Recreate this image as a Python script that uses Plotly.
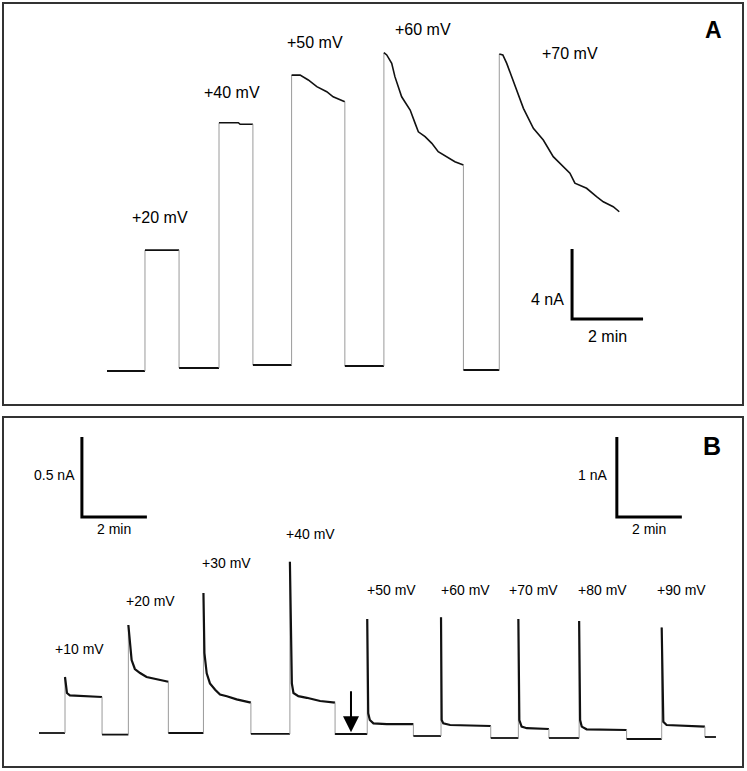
import plotly.graph_objects as go

# ---------------- Panel A data (time in min, current in nA) ----------------
A_labels = ["+20 mV", "+40 mV", "+50 mV", "+60 mV", "+70 mV"]
A_label_t = [1.49, 3.52, 5.86, 8.90, 13.04]
A_label_i = [8.8, 15.94, 18.8, 19.49, 18.17]
A_base = [0.0, 0.17, 0.34, 0.29, 0.06]      # holding current before each step
A_start = 0.0

A20_t = [1.07, 2.03]
A20_i = [6.91, 6.91]
A40_t = [3.155, 3.70, 3.75, 4.11]
A40_i = [14.19, 14.19, 14.10, 14.10]
A50_t = [5.20, 5.44, 5.67, 5.91, 6.19, 6.37, 6.70]
A50_i = [16.91, 16.91, 16.63, 16.25, 15.96, 15.67, 15.39]
A60_t = [7.80, 7.88, 8.02, 8.11, 8.30, 8.54, 8.68, 8.77, 8.96, 9.15, 9.33, 9.57, 9.80, 10.04]
A60_i = [18.19, 18.06, 17.58, 16.82, 15.67, 14.91, 14.15, 13.67, 13.39, 13.01, 12.53, 12.25, 11.96, 11.77]
A70_t = [11.05, 11.15, 11.26, 11.40, 11.54, 11.73, 12.01, 12.29, 12.57, 12.81, 13.04, 13.18,
         13.51, 13.79, 13.98, 14.26, 14.43]
A70_i = [18.11, 18.06, 17.58, 16.82, 15.96, 15.01, 13.87, 13.20, 12.25, 11.77, 11.30, 10.73,
         10.44, 9.96, 9.67, 9.39, 9.10]
A_steps_t = [A20_t, A40_t, A50_t, A60_t, A70_t]
A_steps_i = [A20_i, A40_i, A50_i, A60_i, A70_i]

# ---------------- Panel B data ----------------
B_labels = ["+10 mV", "+20 mV", "+30 mV", "+40 mV", "+50 mV", "+60 mV", "+70 mV", "+80 mV", "+90 mV"]
B_label_t = [1.26, 3.42, 5.78, 8.34, 10.86, 13.11, 15.23, 17.35, 19.78]
B_label_i = [0.525, 0.825, 1.0625, 1.244, 1.79, 1.79, 1.79, 1.79, 1.79]
B_axis = ["y2", "y2", "y2", "y2", "y3", "y3", "y3", "y3", "y3"]   # gain change at arrow
B_base = [0.0, -0.01, 0.0, -0.006, -0.0125, -0.0375, -0.0625, -0.0625, -0.075, -0.05]
B_base_axis = ["y2", "y2", "y2", "y2", "y3", "y3", "y3", "y3", "y3", "y3"]
B_start = 0.0
B_end = 20.83

B10_t = [0.80, 0.86, 0.95, 1.94]
B10_i = [0.35, 0.25, 0.235, 0.225]
B20_t = [2.75, 2.80, 2.85, 2.95, 3.11, 3.31, 3.52, 3.72, 3.98]
B20_i = [0.675, 0.54, 0.456, 0.40, 0.375, 0.35, 0.34, 0.33, 0.32]
B30_t = [5.06, 5.09, 5.16, 5.26, 5.42, 5.57, 5.78, 6.08, 6.52]
B30_i = [0.875, 0.50, 0.373, 0.31, 0.27, 0.24, 0.23, 0.21, 0.19]
B40_t = [7.72, 7.75, 7.78, 7.83, 7.98, 8.24, 8.65, 9.11]
B40_i = [1.07, 0.50, 0.31, 0.25, 0.23, 0.22, 0.20, 0.19]
B50_t = [10.10, 10.13, 10.18, 10.29, 10.70, 11.52]
B50_i = [1.425, 0.246, 0.1625, 0.12, 0.11, 0.11]
B60_t = [12.37, 12.39, 12.44, 12.65, 13.90]
B60_i = [1.446, 0.1625, 0.12, 0.10, 0.0875]
B70_t = [14.75, 14.78, 14.85, 15.01, 15.69]
B70_i = [1.425, 0.1625, 0.08, 0.06, 0.05]
B80_t = [16.62, 16.65, 16.70, 16.85, 18.08]
B80_i = [1.40, 0.1625, 0.08, 0.046, 0.0375]
B90_t = [19.16, 19.21, 19.31, 20.13, 20.49]
B90_i = [1.32, 0.14, 0.10, 0.0875, 0.08]
B_steps_t = [B10_t, B20_t, B30_t, B40_t, B50_t, B60_t, B70_t, B80_t, B90_t]
B_steps_i = [B10_i, B20_i, B30_i, B40_i, B50_i, B60_i, B70_i, B80_i, B90_i]

B_arrow_t = 9.6
B_arrow_i = [0.27, 0.005]

# scale bars
A_bar_t, A_bar_i, A_bar_dt, A_bar_di = 13.10, 2.97, 2.0, 4.0
BL_bar_t, BL_bar_i, BL_bar_dt, BL_bar_di = 1.32, 1.35, 2.0, 0.5
BR_bar_t, BR_bar_i, BR_bar_dt, BR_bar_di = 17.78, 2.70, 2.0, 1.0

fig = go.Figure()
BLACK = "#111111"
GRAY = "#9a9a9a"
FONT = "Liberation Sans, Arial, sans-serif"


def line(x, y, xa, ya, color=BLACK, width=2.0):
    fig.add_trace(go.Scatter(x=x, y=y, mode="lines", xaxis=xa, yaxis=ya,
                             line=dict(color=color, width=width, shape="linear"),
                             hoverinfo="skip", showlegend=False))


# Panel A traces
prev_end = A_start
for k in range(len(A_steps_t)):
    st, si = A_steps_t[k], A_steps_i[k]
    line([prev_end, st[0]], [A_base[k], A_base[k]], "x", "y", width=2.0)
    line([st[0], st[0]], [A_base[k], si[0]], "x", "y", color=GRAY, width=1)
    line(st, si, "x", "y", width=1.6)
    if k + 1 < len(A_base):
        line([st[-1], st[-1]], [si[-1], A_base[k + 1]], "x", "y", color=GRAY, width=1)
    prev_end = st[-1]

# Panel B traces
prev_end = B_start
for k in range(len(B_steps_t)):
    st, si, ax = B_steps_t[k], B_steps_i[k], B_axis[k]
    line([prev_end, st[0]], [B_base[k], B_base[k]], "x2", B_base_axis[k], width=1.8)
    line([st[0], st[0]], [B_base[k], si[0]], "x2", ax, color=GRAY, width=1)
    line(st, si, "x2", ax, width=2.2)
    line([st[-1], st[-1]], [si[-1], B_base[k + 1]], "x2", ax, color=GRAY, width=1)
    prev_end = st[-1]
line([prev_end, B_end], [B_base[-1], B_base[-1]], "x2", B_base_axis[-1], width=1.8)

# scale bars
def scalebar(t0, i0, dt, di, xa, ya):
    line([t0, t0, t0 + dt], [i0 + di, i0, i0], xa, ya, color="#000000", width=3)

scalebar(A_bar_t, A_bar_i, A_bar_dt, A_bar_di, "x", "y")
scalebar(BL_bar_t, BL_bar_i, BL_bar_dt, BL_bar_di, "x2", "y2")
scalebar(BR_bar_t, BR_bar_i, BR_bar_dt, BR_bar_di, "x2", "y3")

ann = []
for lab, t, i in zip(A_labels, A_label_t, A_label_i):
    ann.append(dict(text=lab, x=t, y=i, xref="x", yref="y", showarrow=False,
                    xanchor="center", yanchor="middle",
                    font=dict(size=16, color="#000", family=FONT)))
for k, (lab, t, i) in enumerate(zip(B_labels, B_label_t, B_label_i)):
    ann.append(dict(text=lab, x=t, y=i, xref="x2", yref=B_axis[k], showarrow=False,
                    xanchor="center", yanchor="middle",
                    font=dict(size=14, color="#000", family=FONT)))

# scale bar labels
ann += [
    dict(text="4 nA", x=A_bar_t - 0.17, y=A_bar_i + A_bar_di / 2 - 0.9, xref="x", yref="y",
         xanchor="right", yanchor="middle", showarrow=False,
         font=dict(size=16, color="#000", family=FONT)),
    dict(text="2 min", x=A_bar_t + A_bar_dt / 2, y=A_bar_i - 0.97, xref="x", yref="y",
         xanchor="center", yanchor="middle", showarrow=False,
         font=dict(size=16, color="#000", family=FONT)),
    dict(text="0.5 nA", x=BL_bar_t - 0.15, y=BL_bar_i + BL_bar_di / 2 + 0.0125, xref="x2", yref="y2",
         xanchor="right", yanchor="middle", showarrow=False,
         font=dict(size=14, color="#000", family=FONT)),
    dict(text="2 min", x=BL_bar_t + BL_bar_dt / 2, y=BL_bar_i - 0.075, xref="x2", yref="y2",
         xanchor="center", yanchor="middle", showarrow=False,
         font=dict(size=14, color="#000", family=FONT)),
    dict(text="1 nA", x=BR_bar_t - 0.24, y=BR_bar_i + BR_bar_di / 2 + 0.025, xref="x2", yref="y3",
         xanchor="right", yanchor="middle", showarrow=False,
         font=dict(size=14, color="#000", family=FONT)),
    dict(text="2 min", x=BR_bar_t + BR_bar_dt / 2, y=BR_bar_i - 0.15, xref="x2", yref="y3",
         xanchor="center", yanchor="middle", showarrow=False,
         font=dict(size=14, color="#000", family=FONT)),
    # arrow
    dict(x=B_arrow_t, y=B_arrow_i[1], ax=B_arrow_t, ay=B_arrow_i[0], xref="x2", yref="y2",
         axref="x2", ayref="y2", text="", showarrow=True, arrowhead=2, arrowsize=1.6,
         arrowwidth=2, arrowcolor="#000"),
    # panel letters
    dict(text="<b>A</b>", x=713 / 747, y=1 - 30 / 771, xref="paper", yref="paper",
         xanchor="center", yanchor="middle", showarrow=False,
         font=dict(size=23, color="#000", family=FONT)),
    dict(text="<b>B</b>", x=712 / 747, y=1 - 446 / 771, xref="paper", yref="paper",
         xanchor="center", yanchor="middle", showarrow=False,
         font=dict(size=25, color="#000", family=FONT)),
]

shapes = [
    dict(type="rect", xref="paper", yref="paper", x0=3 / 747, x1=743 / 747,
         y0=1 - 405 / 771, y1=1 - 3 / 771, line=dict(color="#333", width=2)),
    dict(type="rect", xref="paper", yref="paper", x0=3 / 747, x1=743 / 747,
         y0=1 - 767 / 771, y1=1 - 417 / 771, line=dict(color="#333", width=2)),
]

hidden = dict(visible=False, showgrid=False, zeroline=False, fixedrange=True)
fig.update_layout(
    width=747, height=771, margin=dict(l=0, r=0, t=0, b=0),
    paper_bgcolor="white", plot_bgcolor="white", showlegend=False,
    xaxis=dict(domain=[0, 1], range=[-3.014, 18.028], anchor="y", **hidden),
    yaxis=dict(domain=[0, 1], range=[-22.857, 21.2], anchor="x", **hidden),
    xaxis2=dict(domain=[0, 1], range=[-1.2, 21.785], anchor="y2", overlaying="x", **hidden),
    yaxis2=dict(domain=[0, 1], range=[-0.2375, 4.58125], anchor="x2", overlaying="y", **hidden),
    yaxis3=dict(domain=[0, 1], range=[-0.475, 9.1625], anchor="x2", overlaying="y", **hidden),
    annotations=ann, shapes=shapes,
)

fig.write_html("out.html", config={"displayModeBar": False},
               post_script="document.body.style.margin='0px';")
